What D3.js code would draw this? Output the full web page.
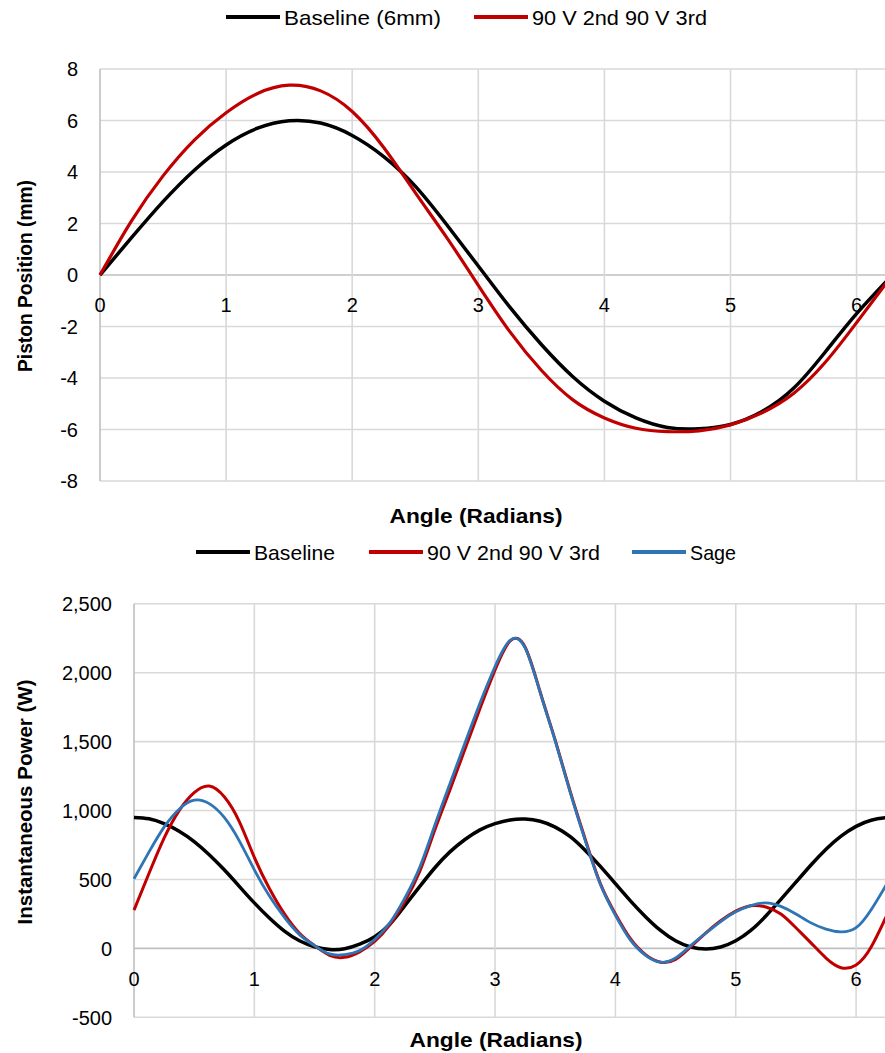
<!DOCTYPE html>
<html>
<head>
<meta charset="utf-8">
<script src="https://cdn.jsdelivr.net/npm/d3@7"></script>
<style>
  body { margin: 0; background: #fff; }
  svg text { font-family: "Liberation Sans", Arial, sans-serif; fill: #000; }
</style>
</head>
<body>
<script>
// ---- top panel: piston position ----
const topAngles = [0, 0.25, 0.5, 0.75, 1, 1.25, 1.5, 1.75, 2, 2.25, 2.5, 2.75, 3, 3.25, 3.5, 3.75,
  4, 4.25, 4.5, 4.75, 5, 5.25, 5.5, 5.75, 6, 6.2832];
const pistonBaseline = [0, 1.45, 2.85, 4.08, 5.05, 5.70, 5.99, 5.90, 5.42, 4.60, 3.45, 1.95, 0.35, -1.25, -2.7, -3.95,
  -4.9, -5.55, -5.92, -5.97, -5.8, -5.3, -4.4, -3.0, -1.5, 0];
const pistonRed = [0, 2.1, 3.85, 5.25, 6.3, 7.05, 7.37, 7.15, 6.35, 4.95, 3.2, 1.45, -0.4, -2.2, -3.7, -4.85,
  -5.55, -5.95, -6.08, -6.05, -5.82, -5.35, -4.6, -3.4, -1.85, 0];
const topYTicks = [-8, -6, -4, -2, 0, 2, 4, 6, 8];
const topLegend = ['Baseline (6mm)', '90 V 2nd 90 V 3rd'];

// ---- bottom panel: instantaneous power ----
const bottomAngles = [0, 0.125, 0.25, 0.375, 0.5, 0.625, 0.75, 0.875, 1, 1.125, 1.25, 1.375, 1.5, 1.625, 1.75, 1.875,
  2, 2.125, 2.25, 2.375, 2.5, 2.625, 2.75, 2.875, 3, 3.125, 3.25, 3.375, 3.5, 3.625, 3.75, 3.875,
  4, 4.125, 4.25, 4.375, 4.5, 4.625, 4.75, 4.875, 5, 5.125, 5.25, 5.375, 5.5, 5.625, 5.75, 5.875,
  6, 6.125, 6.25, 6.2832];
const powerBaseline = [950, 940, 905, 850, 775, 680, 570, 450, 330, 220, 125, 55, 12, -8, -3, 30,
  85, 175, 310, 450, 585, 700, 790, 860, 905, 932, 938, 922, 880, 810, 710, 595,
  470, 345, 230, 130, 55, 10, -5, 10, 55, 130, 235, 355, 480, 605, 720, 815,
  885, 930, 948, 950];
const powerRed = [278, 545, 800, 1000, 1130, 1178, 1100, 920, 660, 435, 250, 110, 20, -50, -65, -25,
  50, 170, 340, 560, 860, 1150, 1445, 1740, 2020, 2230, 2185, 1860, 1510, 1137, 790, 470,
  250, 70, -45, -100, -80, 10, 110, 200, 270, 310, 300, 250, 150, 40, -70, -140,
  -120, 10, 230, 278];
const powerSage = [505, 700, 880, 1010, 1075, 1050, 950, 780, 570, 380, 225, 100, 20, -40, -45, -15,
  65, 185, 365, 590, 895, 1195, 1490, 1780, 2045, 2235, 2180, 1855, 1505, 1130, 780, 465,
  240, 60, -50, -100, -70, 20, 110, 195, 265, 310, 330, 305, 250, 185, 140, 120,
  150, 280, 460, 505];
const bottomYTicks = [-500, 0, 500, 1000, 1500, 2000, 2500];
const bottomLegend = ['Baseline', '90 V 2nd 90 V 3rd', 'Sage'];

const xTicks = [0, 1, 2, 3, 4, 5, 6];
const colors = { black: '#000000', red: '#c00000', blue: '#2e75b6' };

const W = 885, H = 1053;
const svg = d3.select('body').append('svg').attr('width', W).attr('height', H);

const fmtComma = d3.formatLocale({ decimal: '.', thousands: ',', grouping: [3], currency: ['', ''], minus: '-' }).format(',');

function drawPanel(p) {
  const x = d3.scaleLinear().domain([0, 6.2832]).range([p.left, p.left + 6.2832 * p.unit]);
  const y = d3.scaleLinear().domain(p.yDomain).range([p.bottom, p.top]);
  const g = svg.append('g');

  // gridlines
  g.selectAll('.hgrid').data(p.yTicks).enter().append('line')
    .attr('x1', p.left).attr('x2', W + 10)
    .attr('y1', d => y(d)).attr('y2', d => y(d))
    .style('stroke', d => d === 0 ? '#bfbfbf' : '#d9d9d9').style('stroke-width', 1.6);
  g.selectAll('.vgrid').data(xTicks).enter().append('line')
    .attr('x1', d => x(d)).attr('x2', d => x(d))
    .attr('y1', p.top).attr('y2', p.bottom)
    .style('stroke', d => d === 0 ? '#bfbfbf' : '#d9d9d9').style('stroke-width', 1.6);

  // y tick labels
  g.selectAll('.ylab').data(p.yTicks).enter().append('text')
    .attr('x', p.left - 22).attr('y', d => y(d)).attr('dy', '0.36em')
    .attr('text-anchor', 'end').style('font-size', '20px')
    .text(p.yFormat);

  // x tick labels sit just under the zero line
  g.selectAll('.xlab').data(xTicks).enter().append('text')
    .attr('x', d => x(d)).attr('y', y(0) + 30).attr('dy', '0.36em')
    .attr('text-anchor', 'middle').style('font-size', '20px')
    .text(d => d);

  // series
  const line = d3.line().x(d => x(d[0])).y(d => y(d[1])).curve(d3.curveNatural);
  p.series.forEach(s => {
    g.append('path')
      .datum(p.angles.map((a, i) => [a, s.values[i]]))
      .attr('d', line)
      .style('fill', 'none').style('stroke', s.color).style('stroke-width', s.width)
      .style('stroke-linejoin', 'round');
  });

  // axis titles
  g.append('text')
    .attr('transform', `translate(${p.yTitleX},${p.yTitleY}) rotate(-90)`)
    .attr('text-anchor', 'middle').attr('dy', '0.36em')
    .attr('textLength', p.yTitleLen).attr('lengthAdjust', 'spacingAndGlyphs')
    .style('font-size', '21px').style('font-weight', 'bold')
    .text(p.yTitle);
  g.append('text')
    .attr('x', p.xTitleX).attr('y', p.xTitleY).attr('dy', '0.36em')
    .attr('text-anchor', 'middle')
    .attr('textLength', 173).attr('lengthAdjust', 'spacingAndGlyphs')
    .style('font-size', '21px').style('font-weight', 'bold')
    .text('Angle (Radians)');

  // legend
  p.legend.forEach(l => {
    g.append('line')
      .attr('x1', l.x).attr('x2', l.x + 54).attr('y1', p.legendY).attr('y2', p.legendY)
      .style('stroke', l.color).style('stroke-width', 4);
    g.append('text')
      .attr('x', l.x + 58).attr('y', p.legendY).attr('dy', '0.36em')
      .attr('textLength', l.len).attr('lengthAdjust', 'spacingAndGlyphs')
      .style('font-size', '21px')
      .text(l.label);
  });
}

drawPanel({
  left: 100, unit: 126.1, top: 69, bottom: 481, yDomain: [-8, 8], yTicks: topYTicks,
  yFormat: d => String(d), angles: topAngles,
  series: [
    { values: pistonBaseline, color: colors.black, width: 3.5 },
    { values: pistonRed, color: colors.red, width: 3.2 }
  ],
  yTitle: 'Piston Position (mm)', yTitleX: 24, yTitleY: 276, yTitleLen: 192,
  xTitleX: 476, xTitleY: 515,
  legendY: 17,
  legend: [
    { x: 226, color: colors.black, label: topLegend[0], len: 157 },
    { x: 474, color: colors.red, label: topLegend[1], len: 175 }
  ]
});

drawPanel({
  left: 134, unit: 120.35, top: 603.8, bottom: 1017.3, yDomain: [-500, 2500], yTicks: bottomYTicks,
  yFormat: fmtComma, angles: bottomAngles,
  series: [
    { values: powerBaseline, color: colors.black, width: 3.5 },
    { values: powerRed, color: colors.red, width: 3 },
    { values: powerSage, color: colors.blue, width: 2.8 }
  ],
  yTitle: 'Instantaneous Power (W)', yTitleX: 24, yTitleY: 802, yTitleLen: 245,
  xTitleX: 496, xTitleY: 1039,
  legendY: 552,
  legend: [
    { x: 196, color: colors.black, label: bottomLegend[0], len: 81 },
    { x: 369, color: colors.red, label: bottomLegend[1], len: 173 },
    { x: 632, color: colors.blue, label: bottomLegend[2], len: 46 }
  ]
});
</script>
</body>
</html>
